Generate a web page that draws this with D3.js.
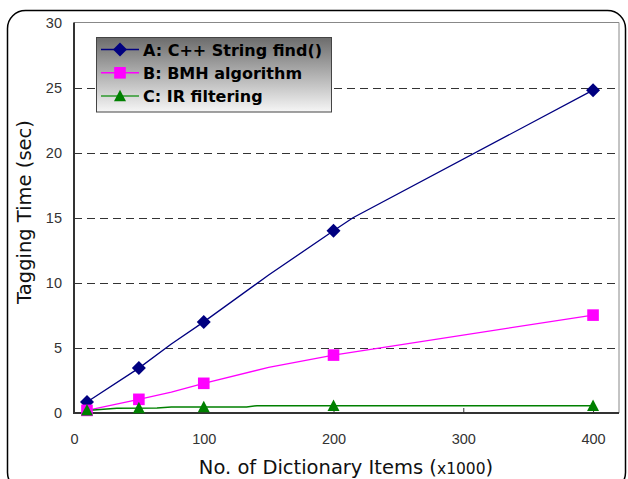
<!DOCTYPE html>
<html><head><meta charset="utf-8">
<script src="https://cdn.jsdelivr.net/npm/d3@7"></script>
<style>body{margin:0;background:#fff}svg{display:block}</style>
</head><body><svg id="c" width="628" height="479"></svg>
<script>
// Data
const xTicks = [0, 100, 200, 300, 400];
const yTicks = [0, 5, 10, 15, 20, 25, 30];
const seriesNames = ["A: C++ String find()", "B: BMH algorithm", "C: IR filtering"];
const seriesColors = ["#000080", "#ff00ff", "#008000"];
const seriesShapes = ["diamond", "square", "triangle"];
// marker points
const markersA = [[10, 0.85], [50, 3.45], [100, 7.0], [200, 14.0], [400, 24.8]];
const markersB = [[10, 0.2], [50, 1.05], [100, 2.28], [200, 4.45], [400, 7.52]];
const markersC = [[10, 0.2], [50, 0.38], [100, 0.46], [200, 0.56], [400, 0.56]];
// line points
const lineA = [[10, 0.85], [50, 3.45], [75, 5.3], [100, 7.0], [150, 10.6], [200, 14.0], [215, 15.0], [400, 24.8]];
const lineB = [[10, 0.2], [50, 1.05], [75, 1.6], [100, 2.28], [150, 3.5], [200, 4.45], [400, 7.52]];
const lineC = [[10, 0.2], [33, 0.36], [64, 0.38], [75, 0.46], [133, 0.46], [141, 0.56], [400, 0.56]];

const svg = d3.select("#c");
const L = 74, R = 619, T = 22.5, B = 413;
const x = d3.scaleLinear().domain([0, 420]).range([L, R]);
const y = d3.scaleLinear().domain([0, 30]).range([B, T]);

// outer frame
svg.append("rect").attr("x", 7.5).attr("y", 10.5).attr("width", 618).attr("height", 480)
  .attr("rx", 18).attr("fill", "#fff").attr("stroke", "#000").attr("stroke-width", 1.5);

// gridlines
svg.append("g").selectAll("line").data(yTicks.filter(d => d > 0 && d < 30)).join("line")
  .attr("x1", L).attr("x2", R).attr("y1", d => Math.round(y(d)) + 0.5).attr("y2", d => Math.round(y(d)) + 0.5)
  .attr("stroke", "#333").attr("stroke-width", 1).attr("stroke-dasharray", "8,5");

// top and right border
svg.append("path").attr("d", `M${L},${T}H${R}V${B}`).attr("fill", "none").attr("stroke", "#888").attr("stroke-width", 1);

// axes
const xAxis = d3.axisBottom(x).tickValues(xTicks).tickSizeInner(-5).tickSizeOuter(0).tickPadding(-1);
const gx = svg.append("g").attr("transform", `translate(0,${B})`).call(xAxis);
gx.select(".domain").attr("stroke", "#333").attr("stroke-width", 2).attr("d", `M${L - 1},0H${R}`);
gx.selectAll(".tick line").attr("stroke", "#333");
gx.selectAll(".tick text").attr("y", 31).attr("dy", 0).attr("fill", "#333")
  .style("font-family", "Liberation Sans, Arial, sans-serif").style("font-size", "14.5px");

const yAxis = d3.axisLeft(y).tickValues(yTicks).tickSize(0).tickPadding(12);
const gy = svg.append("g").attr("transform", `translate(${L},0)`).call(yAxis);
gy.select(".domain").attr("stroke", "#333").attr("stroke-width", 2).attr("d", `M0,${T}V${B}`);
gy.selectAll(".tick text").attr("fill", "#333")
  .style("font-family", "Liberation Sans, Arial, sans-serif").style("font-size", "14.5px");

// lines
const lineGen = d3.line().x(d => x(d[0])).y(d => y(d[1]));
const lines = [lineA, lineB, lineC];
const lineWidths = [1.3, 1.3, 1.5];
lines.forEach((ln, i) => {
  svg.append("path").datum(ln).attr("d", lineGen).attr("fill", "none")
    .attr("stroke", seriesColors[i]).attr("stroke-width", lineWidths[i]);
});

function marker(g, shape, color) {
  if (shape === "diamond") g.append("path").attr("d", "M0,-7L7,0L0,7L-7,0Z").attr("fill", color);
  else if (shape === "square") g.append("rect").attr("x", -5.8).attr("y", -5.8).attr("width", 11.6).attr("height", 11.6).attr("fill", color);
  else g.append("path").attr("d", "M0,-6.3L6,5.2L-6,5.2Z").attr("fill", color);
}
const markers = [markersA, markersB, markersC];
markers.forEach((ms, i) => {
  svg.append("g").selectAll("g").data(ms).join("g")
    .attr("transform", d => `translate(${x(d[0])},${y(d[1])})`)
    .each(function () { marker(d3.select(this), seriesShapes[i], seriesColors[i]); });
});

// legend
const defs = svg.append("defs");
const grad = defs.append("linearGradient").attr("id", "lg").attr("x1", 0).attr("y1", 0).attr("x2", 0).attr("y2", 1);
grad.append("stop").attr("offset", "0%").attr("stop-color", "#6c6c6c");
grad.append("stop").attr("offset", "100%").attr("stop-color", "#f6f6f6");
const lg = svg.append("g");
lg.append("rect").attr("x", 96.5).attr("y", 37.5).attr("width", 235).attr("height", 74.5)
  .attr("fill", "url(#lg)").attr("stroke", "#444").attr("stroke-width", 1);
const legendLineColors = ["#000080", "#ff00ff", "#2e9a2e"];
seriesNames.forEach((nm, i) => {
  const cy = 49.5 + i * 23.3;
  lg.append("line").attr("x1", 101).attr("x2", 139).attr("y1", cy).attr("y2", cy)
    .attr("stroke", legendLineColors[i]).attr("stroke-width", 1.5);
  const mg = lg.append("g").attr("transform", `translate(120,${cy})`);
  marker(mg, seriesShapes[i], seriesColors[i]);
  lg.append("text").attr("x", 143).attr("y", cy + 6.3).text(nm)
    .style("font-family", "DejaVu Sans, Verdana, sans-serif").style("font-weight", "bold")
    .style("font-size", "16px").attr("fill", "#000");
});

// axis titles
const xt = svg.append("text").attr("x", 346).attr("y", 474).attr("text-anchor", "middle")
  .style("font-family", "DejaVu Sans, Verdana, sans-serif").style("font-size", "19.5px").attr("fill", "#111");
xt.append("tspan").text("No. of Dictionary Items (");
xt.append("tspan").text("x1000").style("font-size", "15.5px");
xt.append("tspan").text(")");

svg.append("text").attr("transform", "translate(31,212) rotate(-90)").attr("text-anchor", "middle")
  .style("font-family", "DejaVu Sans, Verdana, sans-serif").style("font-size", "19.5px").attr("fill", "#111")
  .text("Tagging Time (sec)");
</script></body></html>
